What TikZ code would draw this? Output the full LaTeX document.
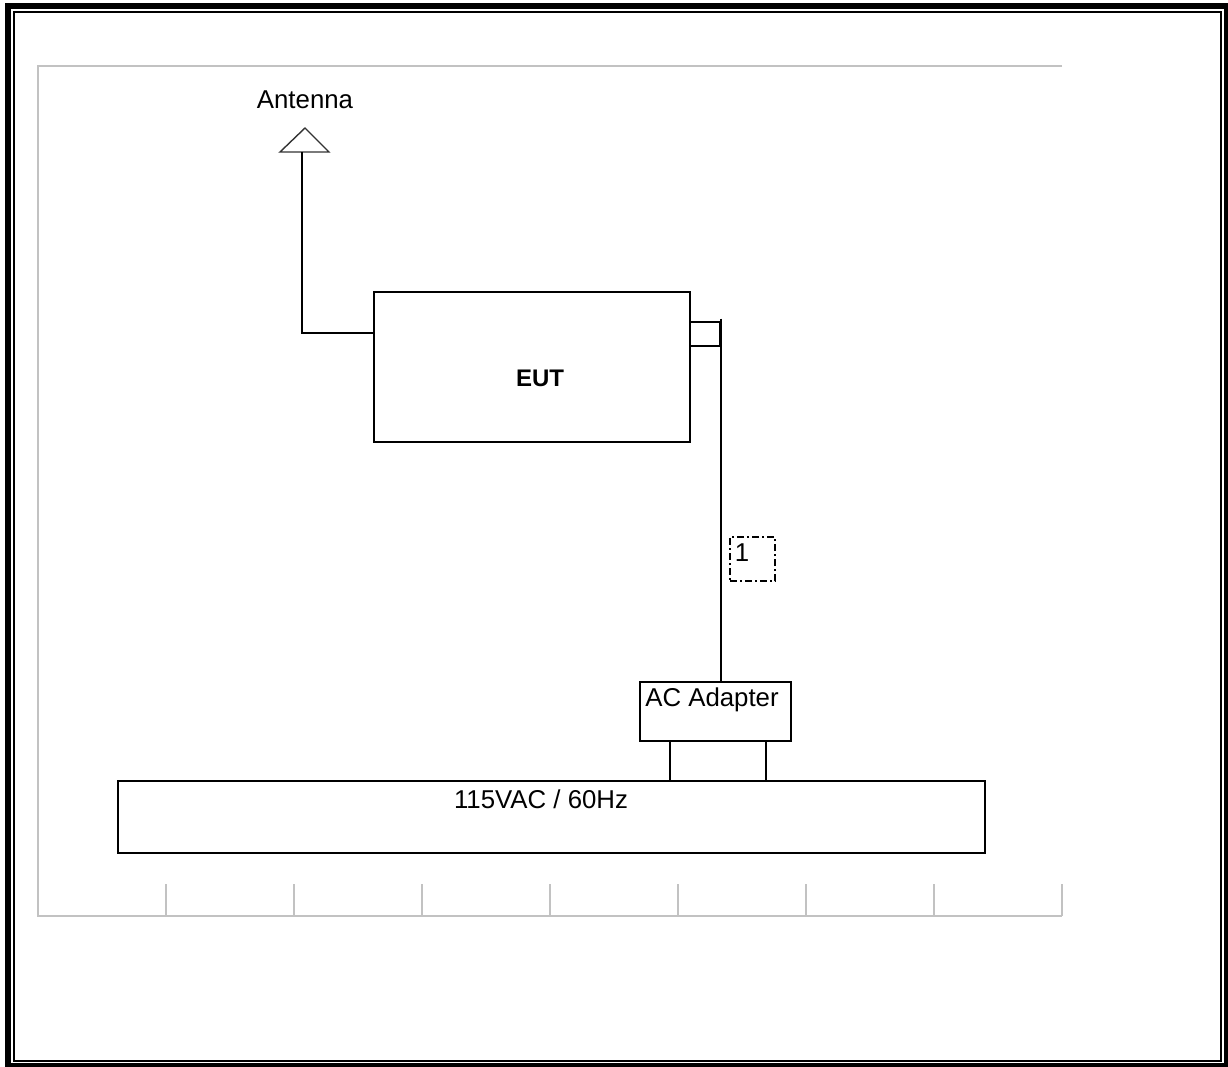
\documentclass[tikz,border=0pt]{standalone}
\usepackage{fontspec}
\setmainfont{Liberation Sans}
\usetikzlibrary{calc}
\begin{document}
\begin{tikzpicture}[x=1pt,y=-1pt,
  blk/.style={draw=black,line width=2pt,rectangle,inner sep=0pt,fill=white},
  wire/.style={draw=black,line width=2pt},
  grid/.style={draw=black!24,line width=2pt},
  lbl/.style={font=\fontsize{25.8}{28}\selectfont,inner sep=0pt}]
\useasboundingbox (0,0) rectangle (1228,1067);
\fill[white] (0,0) rectangle (1228,1067);
% outer frame
\begin{scope}
\clip (0,0) rectangle (1228,1067);
\draw[line width=6pt] (8,6) rectangle (1227,1066);
\draw[line width=2pt] (14,12) rectangle (1221,1061);
\end{scope}
% gray grid frame
\draw[grid] (1062,66) -- (38,66) -- (38,916) -- (1062,916);
\foreach \x in {166,294,422,550,678,806,934,1062}
  \draw[grid] (\x,884) -- (\x,916);
% antenna
\node[lbl] (antlbl) at (305,100) {Antenna};
\coordinate (antapex) at (305,128);
\coordinate (antl) at (280,152);
\coordinate (antr) at (329,152);
\coordinate (antfeed) at (302,152);
\draw[line width=1.4pt,black!80] (antapex) -- (antr) -- (antl) -- cycle;
% EUT
\node[blk,minimum width=316pt,minimum height=150pt] (eut) at (532,367) {};
\node[font=\fontsize{24}{28}\selectfont\bfseries,inner sep=0pt] (eutlbl) at (540,378) {EUT};
\draw[wire] (antfeed) |- ($(eut.north west)+(0,42)$);
% connector
\node[blk,minimum width=30pt,minimum height=24pt] (conn) at (705,333.5) {};
% AC adapter
\node[blk,minimum width=151pt,minimum height=59pt] (acad) at (715.5,711.5) {};
\node[lbl] (acadlbl) at (712,700) {AC Adapter};
\draw[wire] ($(conn.north east)+(0,-2)$) -- (acad.north -| conn.north east);
% label 1
\node[draw=black,line width=1.4pt,dash pattern=on 7pt off 3pt on 2pt off 3pt,minimum width=45pt,minimum height=44pt,inner sep=0pt] (cab1) at (752.5,559) {};
\node[lbl] (cab1lbl) at (742,553) {1};
% mains
\node[blk,minimum width=867pt,minimum height=72pt] (mains) at (551.5,817) {};
\node[lbl] (mainslbl) at (541,799) {115VAC / 60Hz};
\coordinate (legL) at (670,741);
\coordinate (legR) at (766,741);
\draw[wire] (acad.south -| legL) -- (mains.north -| legL);
\draw[wire] (acad.south -| legR) -- (mains.north -| legR);
\end{tikzpicture}
\end{document}
